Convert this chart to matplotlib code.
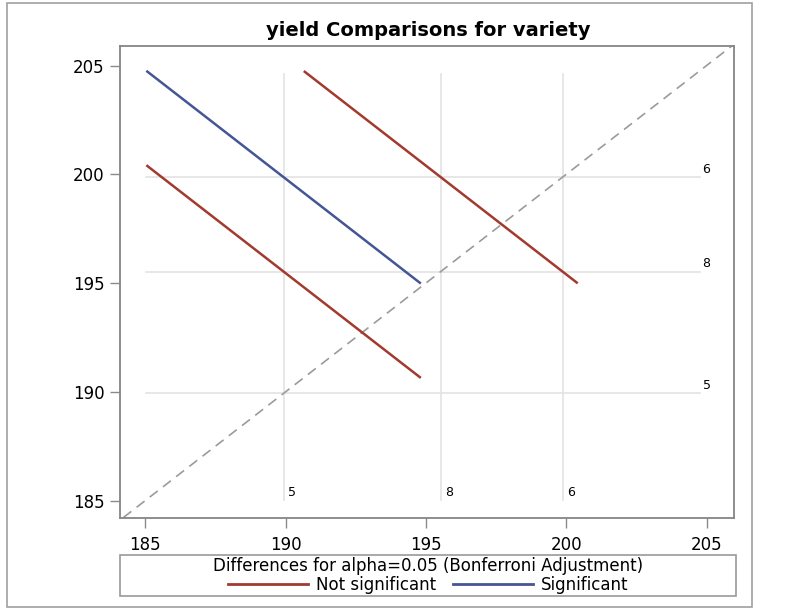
import matplotlib
matplotlib.use("Agg")
import matplotlib.pyplot as plt
from matplotlib.lines import Line2D
from matplotlib.patches import Rectangle
import numpy as np

# variety means (LS-means) in plotting order
varieties = ["5", "8", "6"]
means = [189.93, 195.53, 199.87]

# pairwise comparisons: (index of x variety, index of y variety), CI half width, significant?
pairs = [(0, 1), (0, 2), (1, 2)]
half_width = [4.89, 4.89, 4.88]
significant = [False, True, False]

ticks = [185, 190, 195, 200, 205]

RED = "#A23A2E"
BLUE = "#445694"

plt.rcParams["font.family"] = ["DejaVu Sans"]

fig = plt.figure(figsize=(7.95, 6.11), dpi=100)
ax = fig.add_axes([0.1509, 0.1522, 0.7724, 0.7725])

# segment endpoints derived from means and CI half widths
seg_x0, seg_y0, seg_x1, seg_y1 = [], [], [], []
for (i, j), h in zip(pairs, half_width):
    seg_x0.append(means[i] - h)
    seg_y0.append(means[j] + h)
    seg_x1.append(means[i] + h)
    seg_y1.append(means[j] - h)
lo = min(seg_x0 + seg_y1)
hi = max(seg_x1 + seg_y0)

# reference lines at the means
for m in means:
    ax.plot([lo, hi], [m, m], color="#E3E3E3", lw=1.2, zorder=1)
    ax.plot([m, m], [lo, hi - 0.15], color="#E3E3E3", lw=1.2, zorder=1)

# diagonal
ax.plot([180, 210], [180, 210], color="#9B9B9B", lw=1.2, ls=(0, (6, 4)), zorder=2)

for k in range(len(pairs)):
    c = BLUE if significant[k] else RED
    ax.plot([seg_x0[k], seg_x1[k]], [seg_y0[k], seg_y1[k]], color=c, lw=1.8,
            solid_capstyle="butt", zorder=3)

# labels for the means
for lab, m in zip(varieties, means):
    ax.text(hi + 0.1, m + 0.05, lab, fontsize=9, ha="left", va="bottom")
    ax.text(m + 0.15, lo + 0.35, lab, fontsize=9, ha="left", va="center")

ax.set_xlim(184.1, 205.98)
ax.set_ylim(184.2, 205.9)
ax.set_xticks(ticks)
ax.set_yticks(ticks)
ax.tick_params(labelsize=12, length=7, width=1, color="#8A8A8A", pad=4)
ax.tick_params(axis="x", pad=6)
for s in ax.spines.values():
    s.set_color("#858585")
    s.set_linewidth(1.3)

fig.text(0.5385, 1 - 30 / 611, "yield Comparisons for variety", fontsize=14,
         fontweight="bold", ha="center", va="center")

# legend box
fig.add_artist(Rectangle((0.1509, 1 - 596 / 611), 0.7745, 41 / 611,
                         transform=fig.transFigure, fill=False,
                         edgecolor="#9A9A9A", lw=1.2))
fig.text(0.5385, 1 - 566 / 611, "Differences for alpha=0.05 (Bonferroni Adjustment)",
         fontsize=12, ha="center", va="center")
handles = [Line2D([], [], color=RED, lw=2), Line2D([], [], color=BLUE, lw=2)]
fig.legend(handles, ["Not significant", "Significant"], loc="center",
           bbox_to_anchor=(0.5385, 1 - 585 / 611), ncol=2, frameon=False,
           fontsize=12, handlelength=4.8, handletextpad=0.5, columnspacing=1.0,
           borderpad=0, borderaxespad=0)

# outer frame
fig.add_artist(Rectangle((7 / 795, 1 - 607 / 611), 745 / 795, 604 / 611,
                         transform=fig.transFigure, fill=False,
                         edgecolor="#A0A0A0", lw=1.2))

fig.savefig("out.png", dpi=100)
